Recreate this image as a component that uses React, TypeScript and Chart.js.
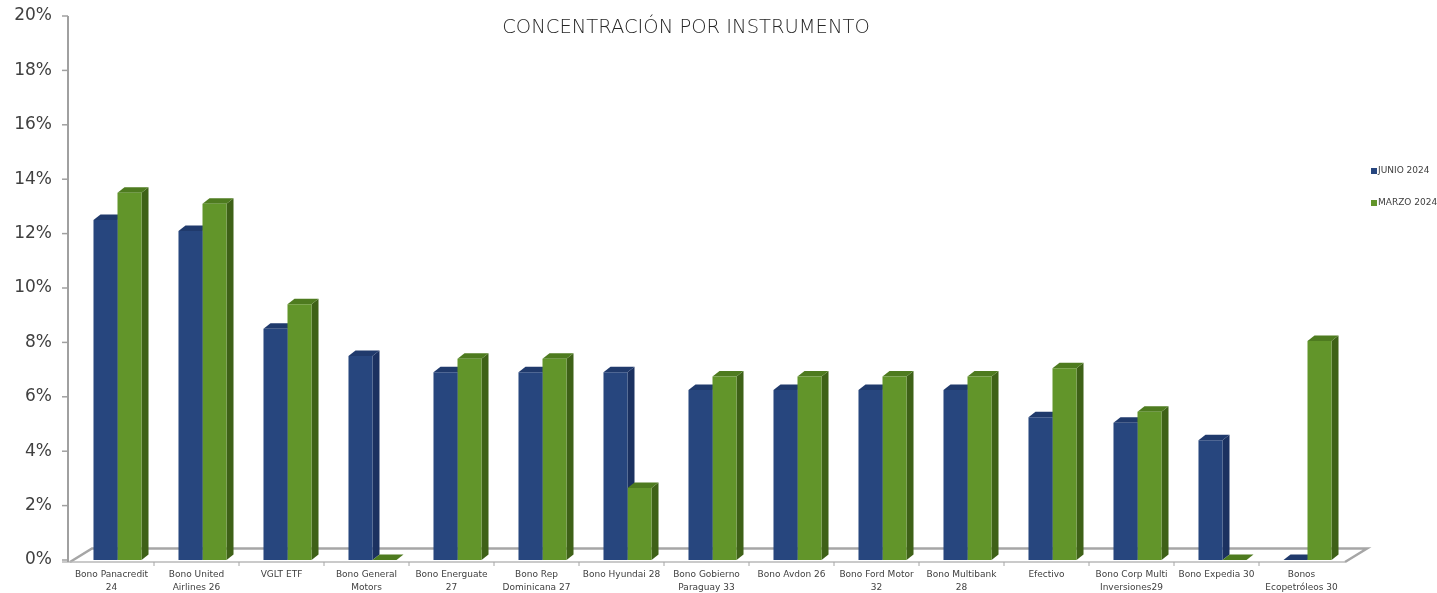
import React, { useEffect, useRef } from "react";
import { Chart, registerables } from "chart.js";

Chart.register(...registerables);

const categories: (string | string[])[] = [
  ["Bono Panacredit", "24"],
  ["Bono United", "Airlines 26"],
  "VGLT ETF",
  ["Bono General", "Motors"],
  ["Bono Energuate", "27"],
  ["Bono Rep", "Dominicana 27"],
  "Bono Hyundai 28",
  ["Bono Gobierno", "Paraguay 33"],
  "Bono Avdon 26",
  ["Bono Ford Motor", "32"],
  ["Bono Multibank", "28"],
  "Efectivo",
  ["Bono Corp Multi", "Inversiones29"],
  "Bono Expedia 30",
  ["Bonos", "Ecopetróleos 30"],
];

const junio2024 = [12.5, 12.1, 8.5, 7.5, 6.9, 6.9, 6.9, 6.25, 6.25, 6.25, 6.25, 5.25, 5.05, 4.4, 0];
const marzo2024 = [13.5, 13.1, 9.4, 0, 7.4, 7.4, 2.65, 6.75, 6.75, 6.75, 6.75, 7.05, 5.45, 0, 8.05];

const seriesNames = ["JUNIO 2024", "MARZO 2024"];
const yTicks = [0, 2, 4, 6, 8, 10, 12, 14, 16, 18, 20];
const chartTitle = "CONCENTRACIÓN POR INSTRUMENTO";

const FRONT = ["#27467e", "#62952a"];
const SIDE = ["#1b3160", "#3e6117"];
const TOPC = ["#203a6c", "#4e7b1f"];
const DX = 7;
const DY = 5.5;
const SHIFT = -6;

const bars3d = {
  id: "bars3d",
  beforeDatasetsDraw(chart: any) {
    const ctx = chart.ctx;
    const { left, right, top, bottom } = chart.chartArea;
    const yScale = chart.scales.y;
    const axisX = left - 7;
    const frontY = bottom + 2;
    const backY = bottom - 11.5;
    const floorL = axisX + 2;
    const floorR = right - 5;
    ctx.save();
    ctx.strokeStyle = "#a6a6a6";
    ctx.lineWidth = 2.5;
    ctx.beginPath();
    ctx.moveTo(floorL, frontY);
    ctx.lineTo(floorL + 22, backY);
    ctx.lineTo(floorR + 22, backY);
    ctx.lineTo(floorR, frontY);
    ctx.stroke();
    ctx.strokeStyle = "#b8b8b8";
    ctx.lineWidth = 1.5;
    ctx.beginPath();
    ctx.moveTo(axisX - 6, frontY);
    ctx.lineTo(floorR, frontY);
    ctx.stroke();
    const n = chart.data.labels.length;
    const step = (right - left) / n;
    ctx.lineWidth = 1;
    ctx.strokeStyle = "#a6a6a6";
    for (let k = 1; k < n; k++) {
      const xx = left + SHIFT + step * k;
      ctx.beginPath();
      ctx.moveTo(xx, frontY);
      ctx.lineTo(xx, frontY + 4);
      ctx.stroke();
    }
    ctx.strokeStyle = "#a0a0a0";
    ctx.lineWidth = 2;
    ctx.beginPath();
    ctx.moveTo(axisX, top);
    ctx.lineTo(axisX, frontY);
    ctx.stroke();
    ctx.lineWidth = 1.5;
    yScale.ticks.forEach((t: any) => {
      const yy = yScale.getPixelForValue(t.value);
      ctx.beginPath();
      ctx.moveTo(axisX - 6, yy);
      ctx.lineTo(axisX, yy);
      ctx.stroke();
    });
    chart.data.datasets.forEach((_ds: any, di: number) => {
      const meta = chart.getDatasetMeta(di);
      meta.data.forEach((el: any) => {
        const { x, y, base, width } = el.getProps(["x", "y", "base", "width"], true);
        const l = x - width / 2;
        const r = x + width / 2;
        ctx.fillStyle = SIDE[di];
        ctx.beginPath();
        ctx.moveTo(r, y);
        ctx.lineTo(r + DX, y - DY);
        ctx.lineTo(r + DX, base - DY);
        ctx.lineTo(r, base);
        ctx.closePath();
        ctx.fill();
        ctx.fillStyle = TOPC[di];
        ctx.beginPath();
        ctx.moveTo(l, y);
        ctx.lineTo(l + DX, y - DY);
        ctx.lineTo(r + DX, y - DY);
        ctx.lineTo(r, y);
        ctx.closePath();
        ctx.fill();
      });
    });
    ctx.restore();
  },
  afterDraw(chart: any) {
    const ctx = chart.ctx;
    ctx.save();
    ctx.fillStyle = "#262626";
    ctx.font = '300 19.5px "DejaVu Sans"';
    ctx.textAlign = "center";
    ctx.textBaseline = "middle";
    ctx.fillText(chartTitle, 686, 28);
    ctx.font = '9px "DejaVu Sans"';
    ctx.textAlign = "left";
    seriesNames.forEach((name, i) => {
      const yy = 171 + i * 32;
      ctx.fillStyle = FRONT[i];
      ctx.fillRect(1371, yy - 3, 6, 6);
      ctx.fillStyle = "#404040";
      ctx.fillText(name, 1378, yy);
    });
    ctx.restore();
  },
};

export default function App() {
  const ref = useRef<HTMLCanvasElement | null>(null);
  useEffect(() => {
    document.body.style.margin = "0";
    if (!ref.current) return;
    const chart = new Chart(ref.current, {
      type: "bar",
      data: {
        labels: categories,
        datasets: [
          {
            label: seriesNames[0],
            data: junio2024,
            backgroundColor: FRONT[0],
            borderWidth: 0,
            categoryPercentage: 0.565,
            barPercentage: 1.0,
          },
          {
            label: seriesNames[1],
            data: marzo2024,
            backgroundColor: FRONT[1],
            borderWidth: 0,
            categoryPercentage: 0.565,
            barPercentage: 1.0,
          },
        ],
      },
      options: {
        responsive: false,
        animation: false,
        layout: { padding: { top: 16, left: 0, right: 87, bottom: 0 } },
        plugins: {
          legend: { display: false },
          title: { display: false },
          tooltip: { enabled: false },
        },
        scales: {
          x: {
            grid: { display: false, drawTicks: false },
            border: { display: false },
            ticks: {
              color: "#404040",
              font: { family: '"DejaVu Sans"', size: 9, lineHeight: 1.35 },
              padding: 9,
              labelOffset: SHIFT,
              maxRotation: 0,
              autoSkip: false,
            },
            afterFit: (s: any) => {
              s.height = 33;
              s.paddingLeft = 0;
              s.paddingRight = 0;
            },
          },
          y: {
            min: 0,
            max: 20,
            afterBuildTicks: (s: any) => {
              s.ticks = yTicks.map((v) => ({ value: v }));
            },
            grid: { display: false, drawTicks: false },
            border: { display: false },
            ticks: {
              color: "#404040",
              font: { family: '"DejaVu Sans"', size: 17 },
              padding: 23,
              callback: (v: any) => v + "%",
            },
            afterFit: (s: any) => {
              s.width = 75;
              s.paddingTop = 0;
              s.paddingBottom = 0;
            },
          },
        },
      },
      plugins: [bars3d],
    });
    return () => chart.destroy();
  }, []);
  return (
    <div style={{ width: 1437, height: 593 }}>
      <canvas ref={ref} width={1437} height={593} />
    </div>
  );
}
